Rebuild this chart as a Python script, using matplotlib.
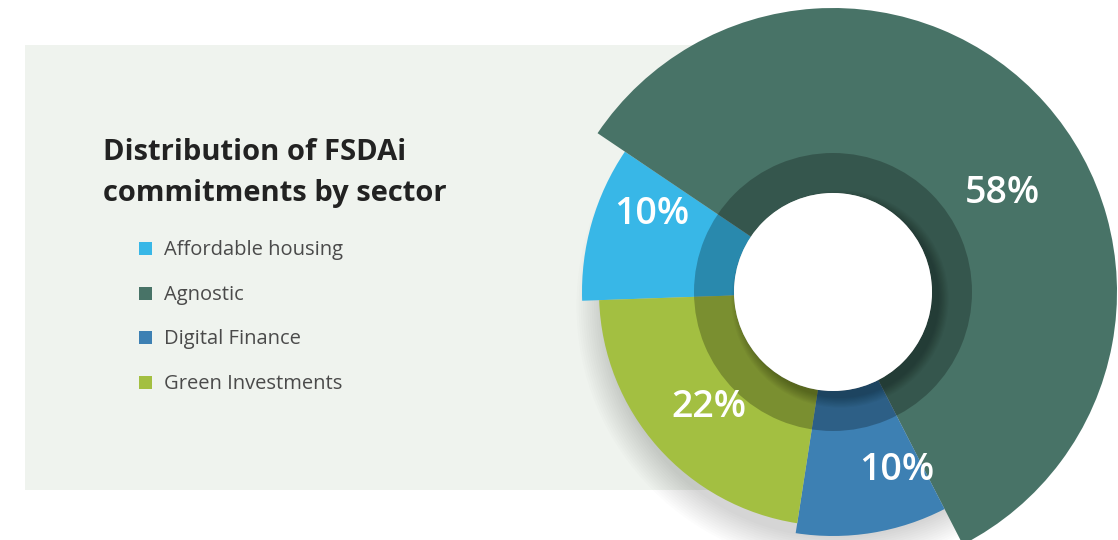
import numpy as np
import matplotlib.pyplot as plt
from matplotlib.patches import Wedge, Rectangle, Circle

# data
sectors = ['Affordable housing', 'Agnostic', 'Digital Finance', 'Green Investments']
shares = [10, 58, 10, 22]
share_labels = ['10%', '58%', '10%', '22%']

# style
colors = ['#38b7e7', '#487367', '#3d80b3', '#a3bf41']
outer_r = [251, 284, 244, 234]
label_pos = [(652, 214), (1002, 193), (897, 470), (709, 407)]   # image px (x, y from top)

W, H = 1118, 540
cx, cy = 833, H - 292
hole, ring = 99, 139

plt.rcParams['font.family'] = ['Open Sans', 'DejaVu Sans']

fig = plt.figure(figsize=(W / 100, H / 100), dpi=100)
ax = fig.add_axes([0, 0, 1, 1])

# background panel
ax.add_patch(Rectangle((25, H - 490), cx - 25, 445, facecolor='#eff3ee', edgecolor='none', zorder=0))

# soft shadow under the donut
for i in range(14):
    ax.add_patch(Circle((cx + 4, cy - 14), 232 + i * 2.2, facecolor='black', edgecolor='none',
                        alpha=0.010, zorder=1))

wedges, _ = ax.pie(shares, startangle=182, counterclock=False, center=(cx, cy), radius=1,
                   colors=colors, wedgeprops=dict(linewidth=0, zorder=2))
for w, r in zip(wedges, outer_r):
    w.set_radius(r)
    w.set_width(r - hole)
    w.set_zorder(2)

# darker inner ring
ax.add_patch(Wedge((cx, cy), ring, 0, 360, width=ring - hole, facecolor='black', edgecolor='none',
                   alpha=0.25, zorder=3))
# shadow cast by the hole toward the lower right
for i in range(9):
    ax.add_patch(Circle((cx + 7, cy - 7), hole + i * 1.2, facecolor='black', edgecolor='none',
                        alpha=0.03, zorder=3.5))

ax.add_patch(Circle((cx, cy), hole, facecolor='white', edgecolor='none', zorder=4))

for lab, (x, y) in zip(share_labels, label_pos):
    ax.text(x, H - y, lab, color='white', fontsize=27, fontweight='semibold',
            ha='center', va='center', zorder=5)

# title
ax.text(103, H - 159.5, 'Distribution of FSDAi', fontsize=21, fontweight='bold', color='#222222',
        ha='left', va='baseline')
ax.text(103, H - 201.5, 'commitments by sector', fontsize=21, fontweight='bold', color='#222222',
        ha='left', va='baseline')

# legend
leg_y = [248, 293, 337, 382]
for name, c, y in zip(sectors, colors, leg_y):
    ax.add_patch(Rectangle((139, H - y - 6.5), 13, 13, facecolor=c, edgecolor='none'))
    ax.text(164, H - y - 7, name, fontsize=14.5, color='#4a4a4a', ha='left', va='baseline')

ax.set_xlim(0, W)
ax.set_ylim(0, H)
ax.set_aspect('equal')
ax.axis('off')

fig.savefig('out.png', dpi=100, facecolor='white')
